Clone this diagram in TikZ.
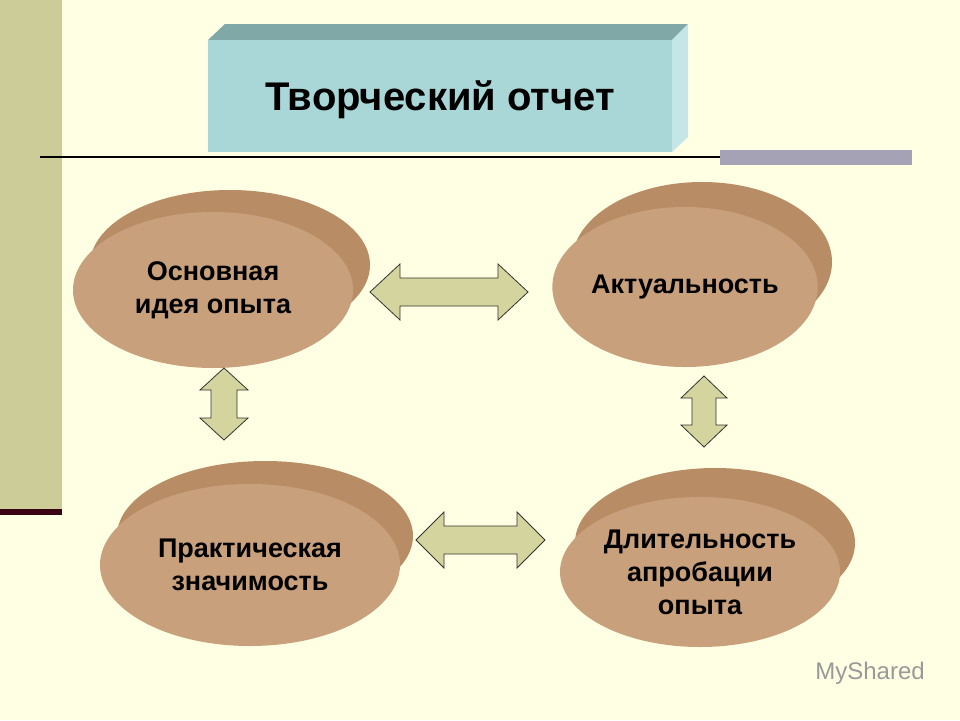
\documentclass[tikz,border=0pt]{standalone}
\usepackage{fontspec}
\setmainfont{Liberation Sans}
\usetikzlibrary{shapes.geometric}
\definecolor{bg}{HTML}{FFFFE3}
\definecolor{olive}{HTML}{CCCC99}
\definecolor{teal1}{HTML}{A9D6D6}
\definecolor{teal2}{HTML}{7FA8A6}
\definecolor{teal3}{HTML}{C4E6E6}
\definecolor{tanf}{HTML}{C9A07C}
\definecolor{tanb}{HTML}{B88D66}
\definecolor{arr}{HTML}{D4D49E}
\definecolor{bar}{HTML}{A6A2B6}
\tikzset{
 discfront/.style={ellipse,fill=tanf,inner sep=0pt,align=center,font=\bfseries\fontsize{27}{33}\selectfont},
 discback/.style={ellipse,fill=tanb,inner sep=0pt},
 darr/.style={draw=black!80,fill=arr,line width=0.8pt,line join=miter}
}
\newcommand{\harr}[6]{% x1 x2 y headlen halfshaft halfhead
 \draw[darr] (#1,#3) -- (#1+#4,#3-#6) -- (#1+#4,#3-#5) -- (#2-#4,#3-#5) -- (#2-#4,#3-#6) -- (#2,#3) -- (#2-#4,#3+#6) -- (#2-#4,#3+#5) -- (#1+#4,#3+#5) -- (#1+#4,#3+#6) -- cycle;}
\newcommand{\varr}[6]{% y1 y2 x headlen halfshaft halfhead
 \draw[darr] (#3,#1) -- (#3-#6,#1+#4) -- (#3-#5,#1+#4) -- (#3-#5,#2-#4) -- (#3-#6,#2-#4) -- (#3,#2) -- (#3+#6,#2-#4) -- (#3+#5,#2-#4) -- (#3+#5,#1+#4) -- (#3+#6,#1+#4) -- cycle;}
\begin{document}
\begin{tikzpicture}[x=1pt,y=-1pt]
\useasboundingbox (0,0) rectangle (960,720);
\fill[bg] (0,0) rectangle (960,720);
\fill[olive] (0,0) rectangle (62,510);
\fill[black!70!purple] (0,509) rectangle (62,515);
\draw[line width=1.2pt] (40,157) -- (912,157);
\fill[bar] (720,150) rectangle (912,165);
\fill[teal2] (208,40) -- (225,24) -- (688,24) -- (672,40) -- cycle;
\fill[teal3] (672,40) -- (688,24) -- (688,137) -- (672,152) -- cycle;
\node[fill=teal1,minimum width=464pt,minimum height=112pt,inner sep=0pt,anchor=north west] (t) at (208,40) {};
\node[font=\bfseries\fontsize{40}{44}\selectfont] (tt) at (440,100) {Творческий отчет};
\node[discback,minimum width=280pt,minimum height=150pt] (b1) at (230,265) {};
\node[discfront,minimum width=280pt,minimum height=156pt] (e1) at (213,290) {Основная\\идея опыта};
\node[discback,minimum width=260pt,minimum height=160pt] (b2) at (702,262) {};
\node[discfront,minimum width=262pt,minimum height=160pt] (e2) at (685,287) {Актуальность};
\node[discback,minimum width=296pt,minimum height=150pt] (b3) at (265,536) {};
\node[discfront,minimum width=300pt,minimum height=162pt] (e3) at (250,565) {Практическая\\значимость};
\node[discback,minimum width=280pt,minimum height=150pt] (b4) at (715,543) {};
\node[discfront,minimum width=280pt,minimum height=150pt] (e4) at (700,572) {Длительность\\апробации\\опыта};
\harr{370}{528}{292}{30}{14}{28}
\harr{416}{545}{540}{28}{14}{28}
\varr{368}{440}{224}{22}{13}{24}
\varr{376}{447}{704}{22}{12}{23}
\node[text=black!40,font=\fontsize{24}{26}\selectfont] (w) at (870,673) {MyShared};
\end{tikzpicture}
\end{document}
